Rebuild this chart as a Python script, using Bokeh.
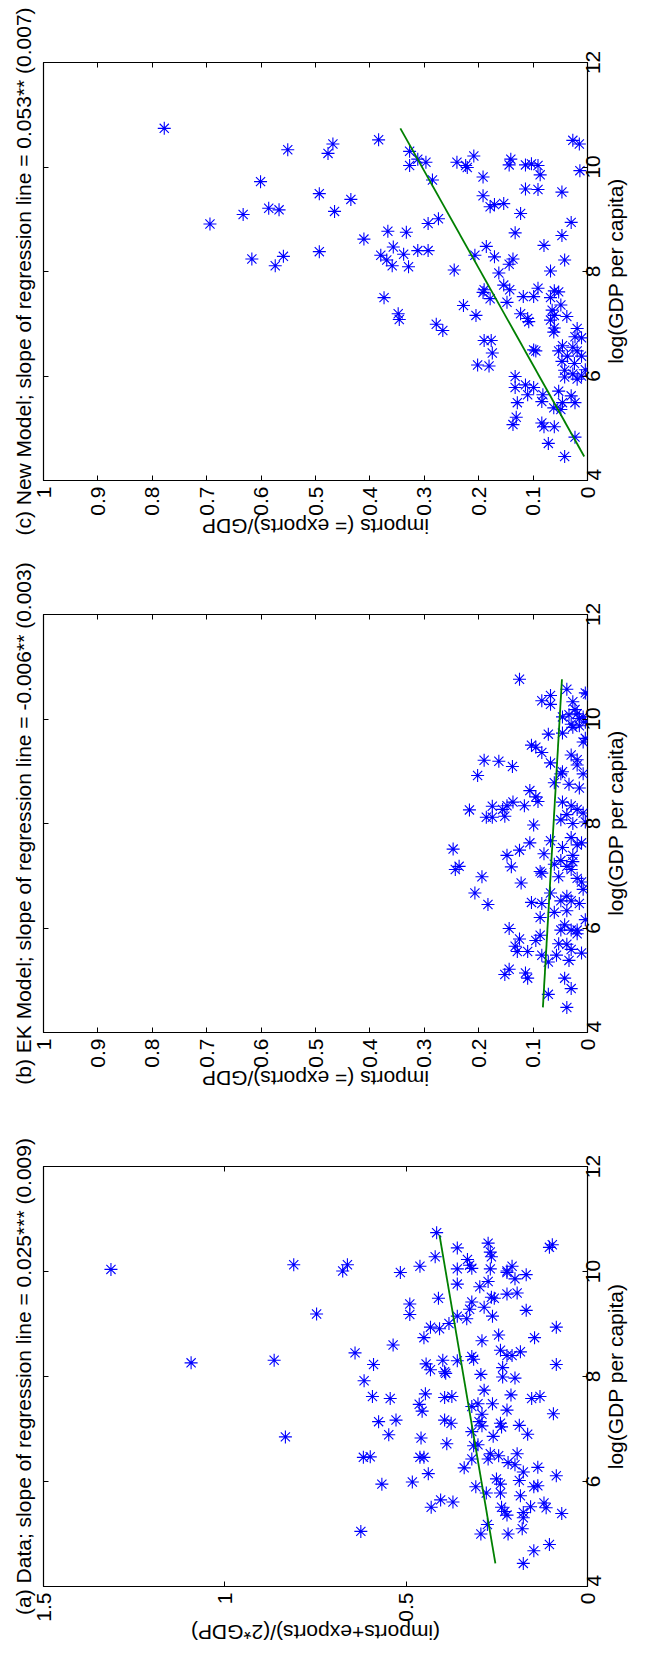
from math import pi
from bokeh.plotting import figure
from bokeh.layouts import column
from bokeh.models import Range1d, LinearAxis, FixedTicker
from bokeh.embed import file_html
from bokeh.resources import INLINE

# ---------------- data ----------------
# Panel (c): New Model
gdp_c = [10.74, 10.52, 10.33, 10.44, 10.26, 10.30, 10.03, 10.09, 10.15, 9.75, 10.09, 10.03, 10.21, 9.99,
         9.81, 10.15, 10.04, 10.04, 10.06, 10.03, 9.85, 10.51, 10.44, 9.93, 9.72, 9.49, 9.38, 9.09, 9.21,
         9.18, 9.15, 8.91, 9.45, 9.58, 9.57, 9.52, 9.24, 9.28, 9.30, 9.11, 8.94, 9.01, 8.92, 8.77, 8.75,
         8.62, 8.74, 8.69, 8.50, 8.48, 8.47, 8.40, 8.40, 8.31, 8.22, 8.33, 8.11, 8.09, 8.38, 8.29, 8.24,
         8.11, 8.31, 8.28, 8.24, 8.14, 8.22, 8.03, 7.97, 8.01, 7.74, 7.65, 7.60, 7.65, 7.68, 7.63, 7.61,
         7.52, 7.52, 7.48, 7.41, 7.50, 7.36, 7.50, 7.35, 7.16, 7.19, 7.08, 7.19, 7.10, 7.04, 7.26, 7.16,
         7.14, 7.07, 6.99, 6.87, 6.92, 6.91, 6.84, 6.75, 6.73, 6.68, 6.68, 6.44, 6.50, 6.48, 6.58, 6.55,
         6.48, 6.38, 6.48, 6.28, 6.24, 6.38, 6.21, 6.19, 6.12, 6.11, 6.04, 5.98, 5.94, 6.00, 5.99, 5.78,
         5.83, 5.78, 5.71, 5.64, 5.64, 5.62, 5.49, 5.49, 5.49, 5.51, 5.39, 5.36, 5.21, 5.07, 5.10, 5.03,
         5.03, 4.83, 4.71, 4.46]
share_c = [0.778, 0.384, 0.551, 0.468, 0.477, 0.327, 0.327, 0.297, 0.312, 0.285, 0.240, 0.224, 0.209,
           0.221, 0.192, 0.141, 0.144, 0.114, 0.103, 0.091, 0.087, 0.027, 0.015, 0.014, 0.601, 0.493,
           0.435, 0.633, 0.586, 0.567, 0.465, 0.694, 0.192, 0.114, 0.091, 0.047, 0.179, 0.171, 0.154,
           0.123, 0.030, 0.274, 0.293, 0.367, 0.333, 0.411, 0.133, 0.047, 0.080, 0.186, 0.357, 0.312,
           0.293, 0.380, 0.369, 0.338, 0.359, 0.329, 0.493, 0.559, 0.617, 0.574, 0.207, 0.171, 0.137,
           0.144, 0.042, 0.245, 0.163, 0.068, 0.154, 0.190, 0.192, 0.143, 0.091, 0.061, 0.053, 0.118,
           0.099, 0.179, 0.148, 0.068, 0.049, 0.374, 0.228, 0.205, 0.348, 0.346, 0.123, 0.110, 0.108,
           0.065, 0.061, 0.038, 0.068, 0.278, 0.266, 0.061, 0.019, 0.062, 0.023, 0.011, 0.190, 0.177,
           0.175, 0.099, 0.095, 0.046, 0.027, 0.053, 0.037, 0.019, 0.047, 0.024, 0.011, 0.202, 0.181,
           0.004, 0.042, 0.027, 0.042, 0.019, 0.011, 0.133, 0.133, 0.114, 0.099, 0.053, 0.082, 0.110,
           0.030, 0.023, 0.046, 0.129, 0.084, 0.062, 0.049, 0.131, 0.137, 0.084, 0.080, 0.061, 0.023,
           0.072, 0.042]
fit_gdp_c = [4.46, 10.74]
fit_share_c = [0.006, 0.344]

# Panel (b): EK Model
gdp_b = [10.76, 10.45, 10.28, 10.35, 10.57, 10.48, 10.50, 10.33, 10.18, 10.08, 10.04, 10.10, 10.01,
         10.04, 9.94, 9.90, 9.73, 9.71, 9.84, 9.87, 9.56, 9.63, 9.50, 9.46, 9.36, 9.31, 9.22, 9.12, 9.16,
         9.21, 9.19, 9.09, 8.92, 8.99, 8.95, 8.95, 8.78, 8.75, 8.68, 8.63, 8.51, 8.42, 8.41, 8.34, 8.34,
         8.33, 8.26, 8.27, 8.14, 8.12, 8.12, 8.41, 8.34, 8.27, 8.20, 8.17, 8.07, 8.00, 8.03, 7.97, 7.63,
         7.67, 7.73, 7.63, 7.54, 7.59, 7.42, 7.49, 7.39, 7.51, 7.18, 7.12, 7.17, 7.29, 7.22, 7.39, 7.27,
         7.18, 7.12, 7.08, 7.05, 6.98, 6.98, 6.95, 6.88, 6.86, 6.74, 6.67, 6.67, 6.61, 6.52, 6.52, 6.47,
         6.49, 6.47, 6.45, 6.30, 6.33, 6.20, 6.16, 6.06, 5.99, 5.96, 5.96, 5.96, 5.89, 5.86, 5.79, 5.76,
         5.70, 5.69, 5.65, 5.59, 5.55, 5.55, 5.48, 5.48, 5.52, 5.38, 5.35, 5.14, 5.04, 5.11, 5.21, 5.04,
         4.84, 4.73, 4.48]
share_b = [0.125, 0.068, 0.068, 0.084, 0.038, 0.000, 0.004, 0.027, 0.023, 0.034, 0.046, 0.019, 0.015,
           0.008, 0.004, 0.030, 0.046, 0.072, 0.027, 0.015, 0.008, 0.004, 0.103, 0.095, 0.084, 0.030,
           0.019, 0.019, 0.068, 0.190, 0.163, 0.138, 0.202, 0.046, 0.049, 0.008, 0.061, 0.034, 0.015,
           0.106, 0.095, 0.091, 0.137, 0.148, 0.116, 0.175, 0.217, 0.156, 0.152, 0.186, 0.175, 0.046,
           0.030, 0.019, 0.008, 0.038, 0.049, 0.027, 0.004, 0.099, 0.106, 0.068, 0.030, 0.011, 0.046,
           0.019, 0.080, 0.125, 0.148, 0.247, 0.236, 0.243, 0.140, 0.049, 0.061, 0.027, 0.027, 0.038,
           0.030, 0.087, 0.084, 0.194, 0.053, 0.019, 0.011, 0.122, 0.008, 0.068, 0.207, 0.038, 0.049,
           0.030, 0.015, 0.103, 0.084, 0.183, 0.061, 0.038, 0.087, 0.004, 0.042, 0.144, 0.049, 0.030,
           0.019, 0.019, 0.087, 0.125, 0.095, 0.053, 0.038, 0.133, 0.030, 0.129, 0.110, 0.084, 0.057,
           0.011, 0.034, 0.072, 0.114, 0.110, 0.152, 0.144, 0.042, 0.030, 0.072, 0.038]
fit_gdp_b = [4.48, 10.76]
fit_share_b = [0.082, 0.047]

# Panel (a): Data
gdp_a = [10.04, 8.26, 8.31, 10.13, 9.19, 6.85, 10.01, 10.13, 5.05, 8.45, 8.23, 7.92, 8.60, 7.62, 7.58,
         7.14, 7.17, 6.89, 6.46, 6.47, 5.95, 5.99, 9.98, 10.10, 9.38, 9.18, 10.28, 10.74, 10.45, 10.23,
         10.12, 10.05, 10.06, 10.54, 10.37, 10.28, 10.05, 9.81, 9.71, 9.76, 9.49, 9.42, 9.28, 9.32, 9.51,
         9.49, 9.15, 9.15, 9.10, 9.01, 8.94, 8.91, 8.74, 8.68, 8.79, 10.01, 10.10, 9.98, 9.86, 9.94, 9.57,
         9.59, 9.26, 10.51, 10.46, 8.94, 8.74, 8.50, 8.40, 8.40, 8.47, 8.17, 7.99, 7.97, 8.23, 8.38, 8.33,
         8.30, 8.31, 8.24, 8.13, 8.09, 8.06, 8.04, 7.67, 7.60, 7.62, 7.74, 7.65, 7.58, 7.62, 7.47, 7.34,
         7.43, 7.48, 7.48, 7.36, 7.28, 7.29, 7.17, 7.11, 7.14, 7.06, 7.11, 7.04, 7.07, 6.95, 6.83, 6.86,
         6.90, 6.72, 6.68, 6.70, 6.53, 6.49, 6.53, 6.46, 6.46, 6.43, 6.43, 6.36, 6.32, 6.27, 6.26, 6.15,
         6.18, 6.11, 6.02, 6.05, 5.95, 5.90, 5.78, 5.78, 5.90, 5.92, 5.73, 5.65, 5.61, 5.51, 5.51, 5.43,
         5.36, 5.52, 5.59, 5.50, 5.41, 5.31, 5.39, 5.18, 5.00, 5.00, 5.10, 4.80, 4.68, 4.44]
share_a = [1.314, 1.093, 0.864, 0.810, 0.747, 0.833, 0.675, 0.662, 0.625, 0.641, 0.590, 0.616, 0.536,
           0.593, 0.544, 0.576, 0.528, 0.548, 0.618, 0.599, 0.567, 0.483, 0.516, 0.462, 0.490, 0.490,
           0.420, 0.416, 0.359, 0.331, 0.325, 0.359, 0.319, 0.274, 0.268, 0.265, 0.268, 0.274, 0.297,
           0.359, 0.411, 0.319, 0.325, 0.285, 0.265, 0.257, 0.262, 0.359, 0.333, 0.382, 0.433, 0.408,
           0.451, 0.291, 0.245, 0.222, 0.208, 0.222, 0.200, 0.169, 0.222, 0.194, 0.169, 0.097, 0.105,
           0.086, 0.146, 0.240, 0.222, 0.208, 0.185, 0.234, 0.234, 0.200, 0.086, 0.319, 0.314, 0.359,
           0.399, 0.445, 0.433, 0.394, 0.391, 0.294, 0.447, 0.394, 0.374, 0.285, 0.211, 0.154, 0.131,
           0.464, 0.456, 0.319, 0.302, 0.262, 0.222, 0.291, 0.094, 0.394, 0.376, 0.299, 0.291, 0.240,
           0.237, 0.188, 0.319, 0.459, 0.260, 0.165, 0.388, 0.314, 0.302, 0.268, 0.245, 0.194, 0.462,
           0.451, 0.319, 0.274, 0.219, 0.200, 0.137, 0.340, 0.439, 0.177, 0.086, 0.188, 0.251, 0.240,
           0.308, 0.279, 0.240, 0.148, 0.137, 0.185, 0.405, 0.371, 0.431, 0.237, 0.228, 0.222, 0.157,
           0.120, 0.114, 0.177, 0.177, 0.071, 0.276, 0.294, 0.219, 0.180, 0.105, 0.148, 0.177]
fit_gdp_a = [4.44, 10.69]
fit_share_a = [0.254, 0.408]

gdp_ticks = [4, 6, 8, 10, 12]
gdp_labels = ["4", "6", "8", "10", "12"]
share_ticks_ab = [0, 0.1, 0.2, 0.3, 0.4, 0.5, 0.6, 0.7, 0.8, 0.9, 1]
share_labels_ab = ["0", "0.1", "0.2", "0.3", "0.4", "0.5", "0.6", "0.7", "0.8", "0.9", "1"]
share_ticks_a = [0, 0.5, 1, 1.5]
share_labels_a = ["0", "0.5", "1", "1.5"]

titles = ["(c) New Model; slope of regression line = 0.053** (0.007)",
          "(b) EK Model; slope of regression line = -0.006** (0.003)",
          "(a) Data; slope of regression line = 0.025*** (0.009)"]
ylabels = ["imports (= exports)/GDP", "imports (= exports)/GDP", "(imports+exports)/(2*GDP)"]
xlabel = "log(GDP per capita)"

# ---------------- styling / layout ----------------
FONT = "Liberation Sans"
FS = 21
FRAME_W, FRAME_H = 544, 420
# Liberation Sans advance widths (per 1000 em) used to centre rotated texts
ADV = {" ": 278, "(": 333, ")": 333, "*": 389, "+": 584, ".": 278, "/": 278, "=": 584, ";": 278,
       "-": 333, "D": 722, "G": 778, "P": 667, "a": 556, "c": 500, "e": 556, "g": 556, "i": 222,
       "l": 222, "m": 833, "o": 556, "p": 556, "r": 333, "s": 500, "t": 278, "x": 500}


def text_px(s):
    return sum(ADV.get(ch, 556) for ch in s) / 1000.0 * FS


def panel(title, ylabel, gdp, share, fgdp, fshare, smax, sticks, slabels, height, bborder):
    p = figure(width=648, height=height, output_backend="svg", toolbar_location=None,
               x_range=Range1d(smax, 0), y_range=Range1d(4, 12),
               x_axis_location=None, y_axis_location=None,
               min_border_left=43, min_border_right=61, min_border_top=62,
               min_border_bottom=bborder)
    p.grid.visible = False
    p.outline_line_color = "black"
    p.outline_line_width = 1.2
    p.outline_line_alpha = 1
    p.background_fill_color = "white"
    p.border_fill_color = "white"
    gspan = 12 - 4

    def mk(ticks, labels=None, marks=True, orient=None, standoff=0, side="below", axis_label=None):
        ax = LinearAxis(ticker=FixedTicker(ticks=ticks))
        ax.major_tick_in = 5 if marks else 0
        ax.major_tick_out = 0
        ax.minor_tick_line_color = None
        ax.major_tick_line_color = "black" if marks else None
        ax.axis_line_color = None
        ax.major_label_text_font = FONT
        ax.major_label_standoff = standoff
        if labels is None:
            ax.major_label_text_font_size = "1px"
            ax.major_label_text_color = None
        else:
            ax.major_label_overrides = {t: l for t, l in zip(ticks, labels)}
            ax.major_label_text_font_size = f"{FS}px"
            ax.major_label_text_color = "black"
        if orient is not None:
            ax.major_label_orientation = orient
        if axis_label is not None:
            ax.axis_label = axis_label
            ax.axis_label_text_font = FONT
            ax.axis_label_text_font_size = f"{FS}px"
            ax.axis_label_text_font_style = "normal"
            ax.axis_label_text_color = "black"
            ax.axis_label_standoff = 9
        p.add_layout(ax, side)
        return ax

    # bottom: ticks with hanging labels, then the (upside-down) axis title
    mk(sticks, slabels, orient=pi / 2, standoff=6, side="below")
    ypos = round(smax / 2 + (text_px(ylabel) / 2) * smax / FRAME_W, 5)
    mk([ypos], [ylabel], marks=False, orient=pi, standoff=8, side="below")

    # top mirror ticks
    mk(sticks, None, side="above")

    # right: tick marks, centred tick labels, axis title
    mk(gdp_ticks, None, side="right")
    lab_pos = [round(max(4, v - (text_px(l) / 2) * gspan / FRAME_H), 5)
               for v, l in zip(gdp_ticks, gdp_labels)]
    mk(lab_pos, gdp_labels, marks=False, orient=pi / 2, standoff=6, side="right")
    xpos = round(8 - (text_px(xlabel) / 2) * gspan / FRAME_H, 5)
    mk([xpos], [xlabel], marks=False, orient=pi / 2, standoff=5, side="right")

    # left mirror ticks; its axis label carries the panel title
    mk(gdp_ticks, None, side="left", axis_label=title)

    p.scatter(share, gdp, marker="asterisk", size=13, line_color="#0000ff", line_width=1.1)
    p.line(fshare, fgdp, line_color="#008000", line_width=1.8)
    return p


pc = panel(titles[0], ylabels[0], gdp_c, share_c, fit_gdp_c, fit_share_c, 1, share_ticks_ab,
           share_labels_ab, 552, 70)
pb = panel(titles[1], ylabels[1], gdp_b, share_b, fit_gdp_b, fit_share_b, 1, share_ticks_ab,
           share_labels_ab, 552, 70)
pa = panel(titles[2], ylabels[2], gdp_a, share_a, fit_gdp_a, fit_share_a, 1.5, share_ticks_a,
           share_labels_a, 554, 72)

layout = column(pc, pb, pa, spacing=0)
open("out.html", "w").write(file_html(layout, INLINE))
